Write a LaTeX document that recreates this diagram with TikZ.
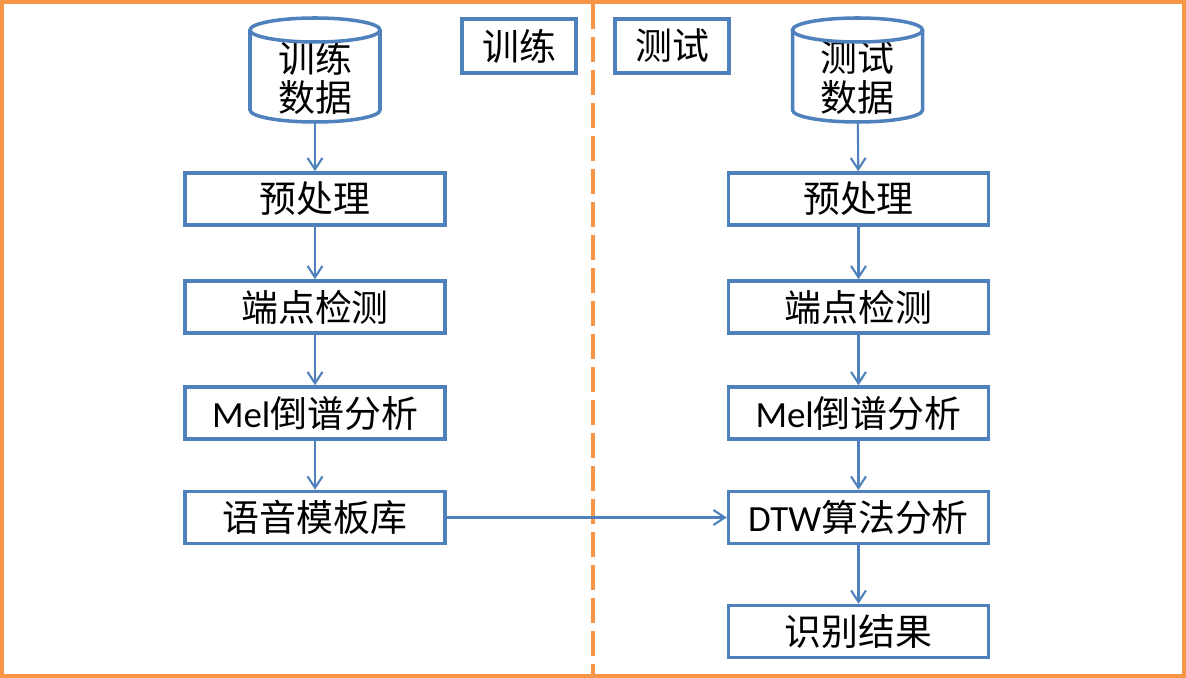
\documentclass[tikz,border=0pt]{standalone}
\usepackage{fontspec}
\setmainfont{Carlito}
\newfontfamily\cjk{Noto Sans CJK SC}
\usetikzlibrary{shapes.geometric, arrows.meta, positioning}
\definecolor{boxblue}{RGB}{79, 129, 189}
\definecolor{frameorange}{RGB}{247, 150, 70}

\begin{document}
\begin{tikzpicture}[x=0.02cm, y=-0.02cm,
  procbox/.style={draw=boxblue, line width=2pt, minimum width=5.2cm, minimum height=1.04cm, inner sep=0pt, font=\fontsize{21}{25}\selectfont},
  tagbox/.style={draw=boxblue, line width=2pt, minimum width=2.28cm, minimum height=1.08cm, inner sep=0pt, font=\fontsize{21}{25}\selectfont\cjk},
  dbtext/.style={minimum width=2.6cm, minimum height=1.76cm, inner sep=0pt, align=center, font=\fontsize{21}{22.7}\selectfont\cjk},
  dbline/.style={draw=boxblue, line width=2pt},
  flow/.style={draw=boxblue, line width=1.2pt, -{Straight Barb[length=6.5pt, width=8.5pt]}}]
  \useasboundingbox (0,0) rectangle (1186,678);

  % Frame and split line
  \draw[frameorange, line width=2.4pt] (2,2) rectangle (1184,676);
  \coordinate (splittop) at (593,4);
  \coordinate (splitbot) at (593,674);
  \draw[frameorange, line width=1.8pt, dash pattern=on 0.5cm off 0.16cm] (splittop) -- (splitbot);

  % Phase tags
  \node[tagbox] (traintag) at (519,46) {训练};
  \node[tagbox] (testtag) at (672,46) {测试};

  % Training side
  \node[dbtext] (traindb) at (315,78) {训练\\数据};
  \node[procbox] (trainpre) at (315,199) {\cjk 预处理};
  \node[procbox] (trainvad) at (315,307) {\cjk 端点检测};
  \node[procbox] (trainmel) at (315,413) {Mel{\cjk 倒谱分析}};
  \node[procbox] (trainlib) at (315,517.5) {\cjk 语音模板库};

  % Testing side
  \node[dbtext] (testdb) at (857.5,78) {测试\\数据};
  \node[procbox] (testpre) at (858.5,199) {\cjk 预处理};
  \node[procbox] (testvad) at (858.5,307) {\cjk 端点检测};
  \node[procbox] (testmel) at (858.5,413) {Mel{\cjk 倒谱分析}};
  \node[procbox] (testdtw) at (858.5,517.5) {DTW{\cjk 算法分析}};
  \node[procbox] (testres) at (858.5,631.5) {\cjk 识别结果};

  % Database cylinders
  \foreach \db in {traindb, testdb} {
    \draw[dbline] ([shift={(-65,-48)}]\db.center) -- ([shift={(-65,32)}]\db.center)
      arc[start angle=180, end angle=0, x radius=65, y radius=12]
      -- ([shift={(65,-48)}]\db.center);
    \draw[dbline] ([shift={(0,-48)}]\db.center) ellipse[x radius=65, y radius=12];
  }

  % Arrows
  \draw[flow] (traindb) -- (trainpre);
  \draw[flow] (trainpre) -- (trainvad);
  \draw[flow] (trainvad) -- (trainmel);
  \draw[flow] (trainmel) -- (trainlib);
  \draw[flow] (testdb) -- (testpre);
  \draw[flow] (testpre) -- (testvad);
  \draw[flow] (testvad) -- (testmel);
  \draw[flow] (testmel) -- (testdtw);
  \draw[flow] (testdtw) -- (testres);
  \draw[flow] (trainlib) -- (testdtw);
\end{tikzpicture}
\end{document}
